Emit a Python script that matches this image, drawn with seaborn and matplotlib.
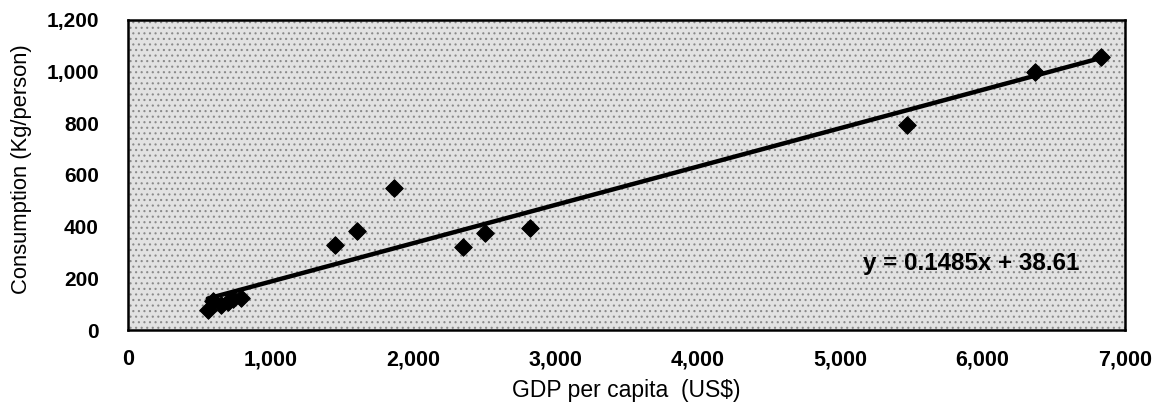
import numpy as np
import pandas as pd
import matplotlib
matplotlib.use("Agg")
import matplotlib.pyplot as plt
from matplotlib.patches import Rectangle
import seaborn as sns

# valores (PIB per capita x consumo)
gdp = [560, 600, 650, 700, 740, 790, 1450, 1610, 1870, 2350, 2510, 2820, 5470, 6370, 6830]
consumo = [78, 112, 95, 108, 120, 125, 330, 385, 550, 320, 375, 393, 795, 1000, 1058]

# reta de tendencia mostrada no grafico
slope = 0.1485
intercept = 38.61
eq_label = "y = 0.1485x + 38.61"

x_ticks = [0, 1000, 2000, 3000, 4000, 5000, 6000, 7000]
y_ticks = [0, 200, 400, 600, 800, 1000, 1200]

data = pd.DataFrame({"gdp": gdp, "consumo": consumo})
linha = pd.DataFrame({"gdp": [min(gdp), max(gdp)]})
linha["consumo"] = slope * linha["gdp"] + intercept

sns.set_theme(style="white")
plt.rcParams["font.family"] = ["Liberation Sans", "DejaVu Sans"]
plt.rcParams["text.color"] = "black"
plt.rcParams["axes.labelcolor"] = "black"
plt.rcParams["xtick.color"] = "black"
plt.rcParams["ytick.color"] = "black"
plt.rcParams["hatch.color"] = "#7a7a7a"
plt.rcParams["hatch.linewidth"] = 0.8

fig = plt.figure(figsize=(11.57, 4.17), dpi=100)
ax = fig.add_axes([128 / 1157, 1 - 330 / 417, (1125 - 128) / 1157, (330 - 20) / 417])

# fundo pontilhado (padrao cinza do excel)
ax.patch.set_facecolor("#e2e2e2")
fundo = Rectangle((0, 0), 1, 1, transform=ax.transAxes, facecolor="none",
                  hatch="...", edgecolor="#8a8a8a", linewidth=0, zorder=0)
ax.add_patch(fundo)

sns.lineplot(x="gdp", y="consumo", data=linha, color="black", linewidth=3.2, ax=ax, zorder=2)
sns.scatterplot(x="gdp", y="consumo", data=data, marker="D", s=80, color="black",
                edgecolor="black", ax=ax, zorder=3)

ax.set_xlim(0, 7000)
ax.set_ylim(0, 1200)
ax.set_xticks(x_ticks)
ax.set_yticks(y_ticks)
ax.set_xticklabels([f"{v:,}" for v in x_ticks], fontsize=15.5, fontweight="semibold")
ax.set_yticklabels([f"{v:,}" for v in y_ticks], fontsize=15, fontweight="semibold")
ax.tick_params(axis="both", direction="in", length=4, width=1, color="black")
ax.tick_params(axis="x", pad=14)
ax.tick_params(axis="y", pad=21)

for s in ax.spines.values():
    s.set_color("black")
    s.set_linewidth(1.8)

ax.set_xlabel("GDP per capita  (US$)", fontsize=16.5, labelpad=6)
ax.set_ylabel("Consumption (Kg/person)", fontsize=15.8)
ax.yaxis.set_label_coords(-(128 - 32) / 997, 0.52)

ax.text(5160, 259, eq_label, fontsize=17.4, fontweight="semibold", va="center", ha="left")

fig.savefig("out.png", dpi=100)
